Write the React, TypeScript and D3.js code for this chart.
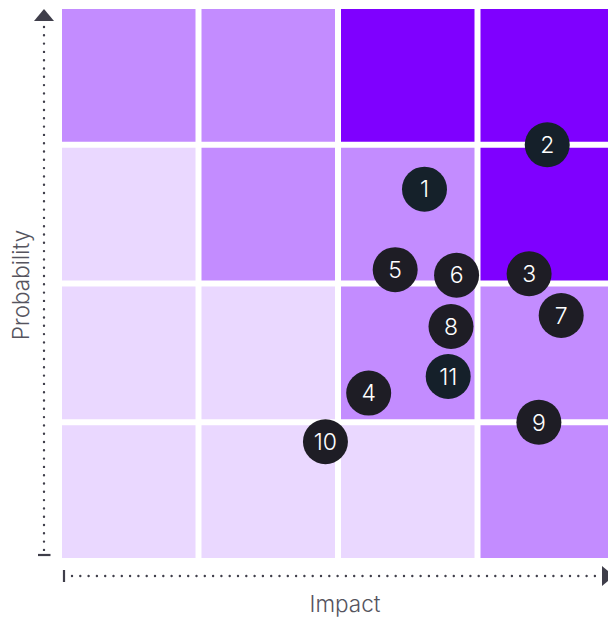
import React from "react";
import * as d3 from "d3";

const W = 608;
const H = 619;

// Grid cells: level (0=light,1=medium,2=dark) by [row from top][col]
const impactLevels = [0, 1, 2, 3];
const probabilityLevels = [0, 1, 2, 3];
const cellLevels: number[][] = [
  [1, 1, 2, 2],
  [0, 1, 1, 2],
  [0, 0, 1, 1],
  [0, 0, 0, 1],
];
const levelColors = ["#ead8ff", "#c38cff", "#7f00ff"];

const riskIds = ["1", "2", "3", "4", "5", "6", "7", "8", "9", "10", "11"];
const riskImpact = [2.62, 3.5, 3.37, 2.22, 2.41, 2.85, 3.6, 2.81, 3.44, 1.91, 2.79];
const riskProbability = [2.68, 3.0, 2.07, 1.21, 2.1, 2.06, 1.77, 1.69, 1.0, 0.86, 1.33];
const riskColors = ["#15212a", "#15202a", "#1e1d25", "#1e1d25", "#1e1d25", "#1e1d25", "#1e1d25", "#1e1d25", "#1e1d25", "#1e1d25", "#15202a"];

const xLabel = "Impact";
const yLabel = "Probability";

export default function App() {
  const x = d3.scaleLinear().domain([0, 4]).range([59, 617]);
  const y = d3.scaleLinear().domain([0, 4]).range([561, 6]);
  const gap = 3;
  const axisColor = "#3f3e4a";
  const font = "Inter, 'Open Sans', sans-serif";

  const cells: React.ReactElement[] = [];
  probabilityLevels.forEach((p) => {
    impactLevels.forEach((i) => {
      const row = 3 - p;
      const lvl = cellLevels[row][i];
      cells.push(
        <rect
          key={`c${p}-${i}`}
          x={x(i) + gap}
          y={y(p + 1) + gap}
          width={x(i + 1) - x(i) - 2 * gap}
          height={y(p) - y(p + 1) - 2 * gap}
          fill={levelColors[lvl]}
        />
      );
    });
  });

  const yAxisX = 44;
  const xAxisY = 576;

  return (
    <svg
      width={W}
      height={H}
      style={{ position: "absolute", left: 0, top: 0, display: "block" }}
    >
      <rect width={W} height={H} fill="#ffffff" />
      {cells}
      {/* Y axis */}
      <line
        x1={yAxisX}
        x2={yAxisX}
        y1={27}
        y2={552}
        stroke={axisColor}
        strokeWidth={2.4}
        strokeDasharray="0 8.3"
        strokeLinecap="round"
      />
      <path d={`M${yAxisX - 10},21 L${yAxisX + 10},21 L${yAxisX},9 Z`} fill={axisColor} />
      <line x1={38} x2={50.5} y1={555} y2={555} stroke={axisColor} strokeWidth={2.2} />
      {/* X axis */}
      <line
        x1={72}
        x2={598}
        y1={xAxisY}
        y2={xAxisY}
        stroke={axisColor}
        strokeWidth={2.4}
        strokeDasharray="0 8.3"
        strokeLinecap="round"
      />
      <line x1={64} x2={64} y1={570} y2={582} stroke={axisColor} strokeWidth={2.2} />
      <path d={`M602,${xAxisY - 10} L602,${xAxisY + 10} L614,${xAxisY} Z`} fill={axisColor} />
      {/* Labels */}
      <text
        x={345}
        y={612}
        textAnchor="middle"
        fontFamily={font}
        fontSize={22.5}
        fontWeight={300}
        fill="#55545e"
      >
        {xLabel}
      </text>
      <text
        transform={`translate(29,285) rotate(-90)`}
        textAnchor="middle"
        fontFamily={font}
        fontSize={22.5}
        fontWeight={300}
        fill="#55545e"
      >
        {yLabel}
      </text>
      {/* Risks */}
      {riskIds.map((id, k) => (
        <g key={id} transform={`translate(${x(riskImpact[k])},${y(riskProbability[k])})`}>
          <circle r={22.5} fill={riskColors[k]} />
          <text
            textAnchor="middle"
            dy="0.36em"
            fontFamily={font}
            fontSize={23}
            fontWeight={300}
            fill="#ffffff"
          >
            {id}
          </text>
        </g>
      ))}
    </svg>
  );
}
